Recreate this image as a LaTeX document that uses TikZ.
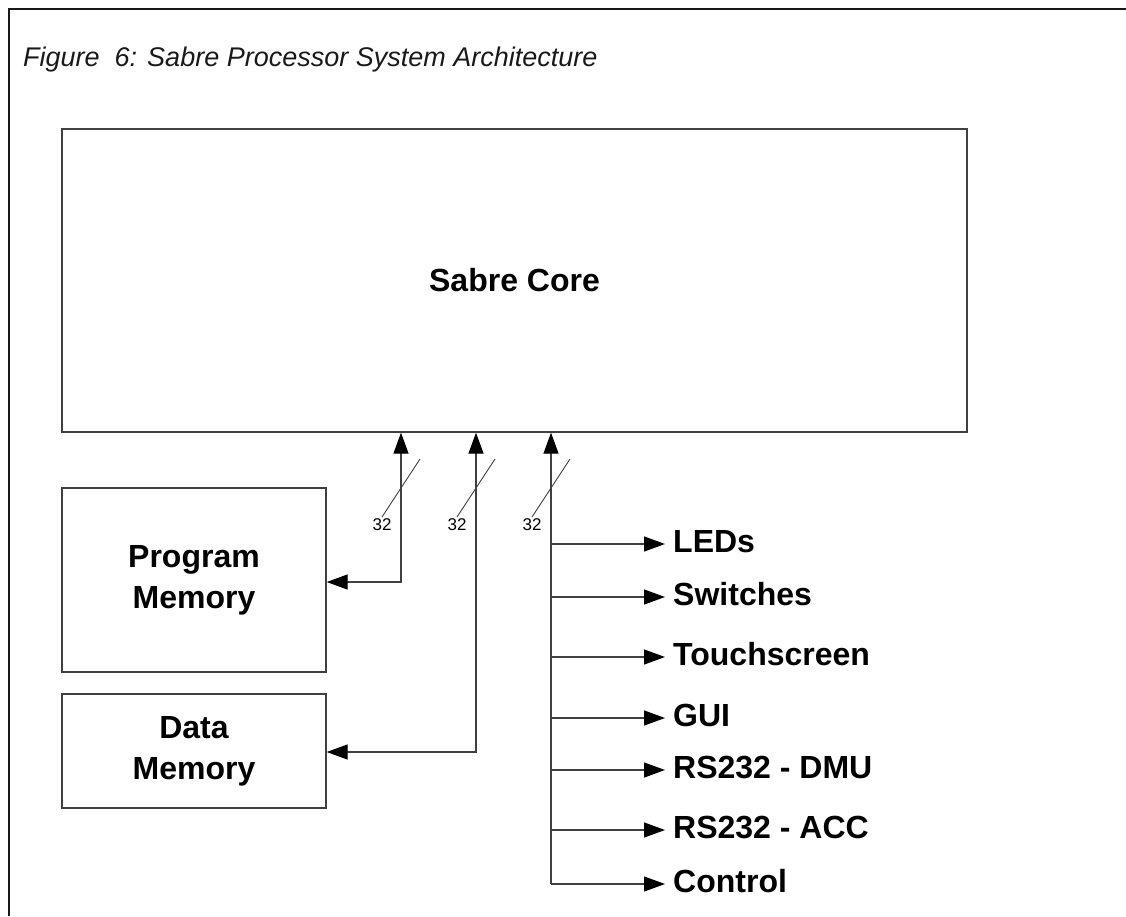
\documentclass[tikz,border=0pt]{standalone}
\usepackage{fontspec}
\setmainfont{Liberation Sans}
\usetikzlibrary{arrows.meta}
\definecolor{uququq}{rgb}{0.25,0.25,0.25}
\definecolor{qqqqqq}{rgb}{0.1,0.1,0.1}
\tikzset{
	blok/.style={draw=uququq,line width=1.3pt,inner sep=0pt,align=center,font=\fontsize{32}{41}\selectfont\bfseries},
	uitgang/.style={anchor=west,inner sep=0pt,text height=20pt,text depth=4pt,font=\fontsize{32}{40}\selectfont\bfseries},
	bus/.style={color=uququq,line width=1.2pt}
}
\begin{document}
\begin{tikzpicture}[line cap=butt,line join=miter,>={Triangle[length=21pt,width=15pt,color=black,fill=black]},x=1pt,y=-1pt]
					\useasboundingbox (0,0) rectangle (1126,916);
					\draw[color=qqqqqq,line width=2.2pt] (9,916) -- (9,9) -- (1126,9);
					\node[anchor=base west,inner sep=0pt,font=\fontsize{27}{32}\selectfont\itshape,color=qqqqqq] (titel) at (23,66) {Figure\ \ 6: Sabre Processor System Architecture};
					\node[blok,minimum width=905pt,minimum height=303pt] (core) at (514.5,280.5) {Sabre Core};
					\node[blok,minimum width=264pt,minimum height=184pt] (pmem) at (194,580) {Program\\Memory};
					\node[blok,minimum width=264pt,minimum height=114pt] (dmem) at (194,751) {Data\\Memory};
					\foreach \y/\n/\t in {544/leds/LEDs,597/sw/Switches,657/ts/Touchscreen,718/gui/GUI,770/dmu/RS232 - DMU,830/acc/RS232 - ACC,884/ctl/Control}
					\node[uitgang] (\n) at (673,\y) {\t};
					\coordinate (b1) at (401,582);
					\coordinate (b2) at (476,752);
					\coordinate (b3) at (551,884);
					\draw[bus,<->] (core.south -| b1) -- (b1) -- (b1 -| pmem.east);
					\draw[bus,<->] (core.south -| b2) -- (b2) -- (b2 -| dmem.east);
					\draw[bus,->] (ctl.west -| b3) -- (core.south -| b3);
					\foreach \n in {leds,sw,ts,gui,dmu,acc,ctl}
					\draw[bus,->,shorten >=8pt] (\n.west -| b3) -- (\n.west);
					\foreach \x in {401,476,551}
					\draw[color=uququq,line width=0.9pt] (\x+19,459) -- (\x-19,517) node[below,inner sep=1.5pt,color=black,font=\fontsize{17}{20}\selectfont] {32};
					\end{tikzpicture}
\end{document}
